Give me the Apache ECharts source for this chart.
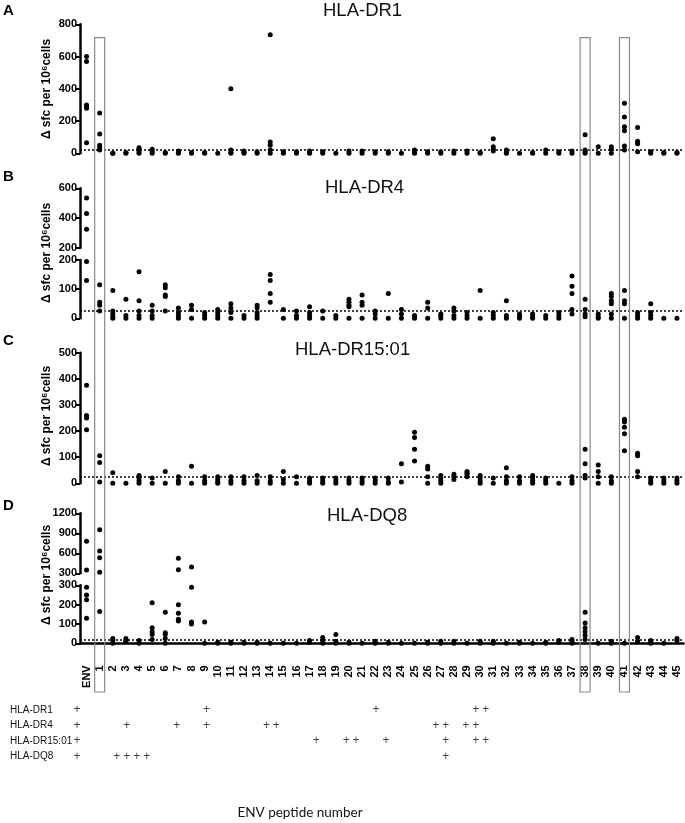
<!DOCTYPE html>
<html>
<head>
<meta charset="utf-8">
<title>ENV peptide responses</title>
<script src="https://cdn.jsdelivr.net/npm/echarts@6/dist/echarts.min.js"></script>
<style>
  html, body { margin: 0; padding: 0; background: #fff; }
  #chart { width: 685px; height: 823px; }
</style>
</head>
<body>
<div id="chart"></div>
<script>
// peptide categories (x axis)
const peptides = ["ENV", "1", "2", "3", "4", "5", "6", "7", "8", "9", "10", "11", "12", "13", "14", "15",
  "16", "17", "18", "19", "20", "21", "22", "23", "24", "25", "26", "27", "28", "29", "30", "31", "32",
  "33", "34", "35", "36", "37", "38", "39", "40", "41", "42", "43", "44", "45"]

// delta sfc per 10^6 cells, one list of donors per peptide (ENV, 1..45)
const dr1 = [
  [600, 570, 300, 290, 280, 65], [250, 120, 50, 35, 20], [0, 0], [5, 0], [35, 25, 10, 0], [25, 10, 0],
  [5, 0], [15, 5, 0], [5, 0], [5, 0], [0], [400, 20, 5, 0], [15, 5, 0], [10, 0], [735, 70, 50, 20, 0],
  [10, 0], [10, 0], [15, 5, 0], [10, 0], [0], [15, 0], [15, 0], [10, 0], [10, 0], [0], [20, 5, 0],
  [10, 0], [10, 0], [15, 0], [15, 0], [5, 0], [90, 40, 25, 15], [20, 5, 0], [0], [5, 0], [20, 0],
  [10, 0], [15, 0], [115, 20, 10, 0], [40, 0], [40, 25, 0], [310, 225, 165, 140, 45, 20],
  [160, 75, 60, 10], [10, 0], [5, 0], [5, 0]
]
const dr4 = [
  [535, 430, 325, 195, 130], [115, 55, 45, 25], [95, 25, 15, 5, 0], [65, 10, 0], [160, 60, 25, 10, 0],
  [45, 25, 10, 0], [115, 105, 80, 75, 25], [35, 20, 10, 0], [45, 30, 0], [20, 10, 0], [30, 20, 10, 0],
  [50, 35, 20, 0], [10, 0], [45, 35, 20, 10, 0], [150, 130, 85, 55], [30, 0], [25, 10, 0],
  [40, 20, 10, 0], [25, 0], [10, 0], [65, 55, 45, 40, 0], [80, 55, 45, 0], [25, 15, 0], [85, 0],
  [30, 15, 0], [10, 0], [55, 35, 0], [15, 10, 0], [35, 25, 10, 0], [20, 10, 0], [95, 0], [20, 10, 0],
  [60, 10, 0], [15, 5, 0], [15, 5, 0], [10, 0], [20, 10, 0], [145, 110, 85, 30, 15], [65, 30, 15, 5],
  [15, 5, 0], [85, 75, 60, 50, 15, 0], [95, 60, 50, 0], [20, 10, 0], [50, 20, 10, 0], [0], [0]
]
const dr1501 = [
  [375, 260, 250, 205], [105, 80, 5], [40, 0], [0], [30, 20, 10, 0], [20, 0], [45, 0], [25, 10, 0],
  [65, 0], [25, 10, 0], [25, 15, 5, 0], [25, 10, 0], [25, 10, 0], [30, 10, 0], [25, 10, 0], [45, 15, 0],
  [25, 0], [20, 10, 0], [20, 10, 0], [20, 10, 0], [20, 10, 0], [20, 10, 0], [20, 10, 0], [20, 5, 0],
  [75, 5], [195, 175, 130, 85], [65, 55, 25, 0], [30, 20, 10, 0], [35, 25, 15], [45, 40, 35, 25],
  [30, 20, 10, 0], [20, 0], [60, 25, 10, 0], [25, 10, 0], [30, 20, 10, 0], [20, 10, 0], [0],
  [25, 10, 0], [130, 75, 30, 20], [70, 45, 25, 0], [25, 10, 0], [245, 235, 215, 190, 125],
  [115, 105, 45, 25], [20, 10, 0], [20, 10, 0], [20, 10, 0]
]
const dq8 = [
  [780, 350, 290, 250, 225, 130], [955, 635, 535, 315, 165], [25, 15, 0], [25, 15, 10], [15, 0],
  [210, 80, 60, 45, 20], [160, 55, 45, 25, 0], [525, 355, 200, 155, 125, 115], [395, 290, 110, 100],
  [110, 0], [5, 0], [5, 0], [5, 0], [5, 0], [0], [0], [0], [15, 5], [30, 15, 0], [45, 10, 0], [5, 0],
  [0], [10, 0], [5, 0], [0], [0], [5, 0], [10, 0], [10, 0], [0], [10, 0], [10, 0], [0], [5, 0], [0],
  [5, 0], [15, 5], [20, 10, 0], [160, 105, 80, 60, 40, 20], [0], [10, 0], [0], [30, 10], [15, 5, 0],
  [0], [25, 15]
]

// cutoff lines
const cutoffs = [25, 25, 25, 20]

// table of predicted binders
const alleles = ["HLA-DR1", "HLA-DR4", "HLA-DR15:01", "HLA-DQ8"]
const hitsDR1 = [1, 14, 31, 41, 42]
const hitsDR4 = [1, 6, 11, 14, 20, 21, 37, 38, 40, 41]
const hitsDR1501 = [1, 25, 28, 29, 32, 38, 41, 42]
const hitsDQ8 = [1, 5, 6, 7, 8, 38]

// boxed peptides
const boxed = ["1", "38", "41"]

const font = "Liberation Sans"
const LEFT = 80
const WIDTH = 603.5

// flatten one panel into [category, value] points, keep only values in (lo, hi]
const points = (panel, lo, hi) => {
  let out = []
  panel.forEach((vals, i) => {
    vals.forEach(v => {
      if (v > lo && v <= hi) out.push([peptides[i], v])
    })
  })
  return out
}

// grids: A, B-upper, B-lower, C, D-upper, D-lower
const layout = [
  { top: 24.3, height: 129, min: 0, max: 800, interval: 200 },
  { top: 188.3, height: 59.4, min: 200, max: 600, interval: 200 },
  { top: 260, height: 58.3, min: 0, max: 200, interval: 100 },
  { top: 352.7, height: 130.6, min: 0, max: 500, interval: 100 },
  { top: 513.3, height: 60, min: 300, max: 1200, interval: 300 },
  { top: 585.3, height: 58, min: 0, max: 300, interval: 100 }
]

const grids = layout.map(l => ({ left: LEFT, width: WIDTH, top: l.top, height: l.height }))
grids.push({ left: 67, width: 458.6, top: 702, height: 62 })

const xAxes = layout.map((l, i) => ({
  type: "category",
  gridIndex: i,
  data: peptides,
  show: i === 5,
  offset: i === 5 ? 19 : 0,
  axisLine: { lineStyle: { color: "#000", width: 2.5 } },
  axisTick: { alignWithLabel: true, length: 4, lineStyle: { color: "#000", width: 1.5 } },
  axisLabel: { rotate: 90, interval: 0, margin: 3, color: "#000", fontWeight: "bold", fontSize: 11, fontFamily: font }
}))
xAxes.push({ type: "value", gridIndex: 6, min: 0, max: 46, show: false })

const yAxes = layout.map((l, i) => ({
  type: "value",
  gridIndex: i,
  min: l.min,
  max: l.max,
  interval: l.interval,
  splitLine: { show: false },
  axisLine: { show: true, lineStyle: { color: "#000", width: 2.5 } },
  axisTick: { show: true, length: 5, lineStyle: { color: "#000", width: 2 } },
  axisLabel: {
    margin: 3, color: "#000", fontWeight: "bold", fontSize: 11, fontFamily: font,
    formatter: v => String(v)
  }
}))
yAxes.push({
  type: "category",
  gridIndex: 6,
  data: alleles,
  inverse: true,
  axisLine: { show: false },
  axisTick: { show: false },
  axisLabel: { align: "left", margin: 57, color: "#111", fontSize: 10, fontFamily: font }
})

const dotted = v => ({
  silent: true,
  symbol: "none",
  label: { show: false },
  lineStyle: { color: "#000", type: [2, 2], width: 1.5 },
  data: [{ yAxis: v }]
})

const scatter = (i, data, cut) => {
  let s = {
    type: "scatter",
    xAxisIndex: i,
    yAxisIndex: i,
    data: data,
    symbolSize: 5,
    clip: false,
    itemStyle: { color: "#000", opacity: 1 }
  }
  if (cut !== undefined) s.markLine = dotted(cut)
  return s
}

const hitSeries = [hitsDR1, hitsDR4, hitsDR1501, hitsDQ8].map((hits, r) => ({
  type: "scatter",
  xAxisIndex: 6,
  yAxisIndex: 6,
  data: hits.map(n => [n, alleles[r]]),
  symbolSize: 2,
  itemStyle: { color: "rgba(0,0,0,0)" },
  label: { show: true, position: "inside", formatter: "+", color: "#111", fontSize: 12, fontFamily: font }
}))

const series = [
  scatter(0, points(dr1, -1, 800), cutoffs[0]),
  scatter(1, points(dr4, 200, 600)),
  scatter(2, points(dr4, -1, 200), cutoffs[1]),
  scatter(3, points(dr1501, -1, 500), cutoffs[2]),
  scatter(4, points(dq8, 300, 1200)),
  scatter(5, points(dq8, -1, 300), cutoffs[3])
].concat(hitSeries)

const titleStyle = { color: "#111", fontSize: 18.5, fontWeight: "normal", fontFamily: font }
const panelTitle = (text, left, top) => ({ text: text, left: left, top: top, padding: 0, textStyle: titleStyle })

const yName = cy => ({
  type: "text",
  x: 47,
  y: cy,
  rotation: Math.PI / 2,
  style: { text: "\u0394 sfc per 10\u2076cells", fill: "#000", font: "bold 12px " + font, align: "center", verticalAlign: "middle" }
})
const letter = (t, y) => ({
  type: "text",
  x: 3,
  y: y,
  style: { text: t, fill: "#000", font: "bold 15px " + font }
})

let chart = echarts.init(document.getElementById("chart"))
chart.setOption({
  animation: false,
  backgroundColor: "#fff",
  title: [
    panelTitle("HLA-DR1", 323, 1),
    panelTitle("HLA-DR4", 325, 178),
    panelTitle("HLA-DR15:01", 295, 340),
    panelTitle("HLA-DQ8", 327, 506)
  ],
  grid: grids,
  xAxis: xAxes,
  yAxis: yAxes,
  series: series
})

// boxes around the highlighted peptides, placed from the category axis
let graphics = [
  letter("A", 3), letter("B", 169), letter("C", 333), letter("D", 498),
  yName(89), yName(253), yName(416), yName(575),
  {
    type: "text",
    x: 300,
    y: 813,
    style: { text: "ENV peptide number", fill: "#111", font: "13.5px Lato", align: "center", verticalAlign: "middle" }
  }
]
boxed.forEach(p => {
  const cx = chart.convertToPixel({ xAxisIndex: 0 }, p)
  graphics.push({
    type: "rect",
    shape: { x: cx - 5, y: 37.7, width: 10, height: 692 - 37.7 },
    style: { fill: "none", stroke: "#8a8a8a", lineWidth: 1.2 },
    z: 10
  })
})
chart.setOption({ graphic: graphics })
</script>
</body>
</html>
